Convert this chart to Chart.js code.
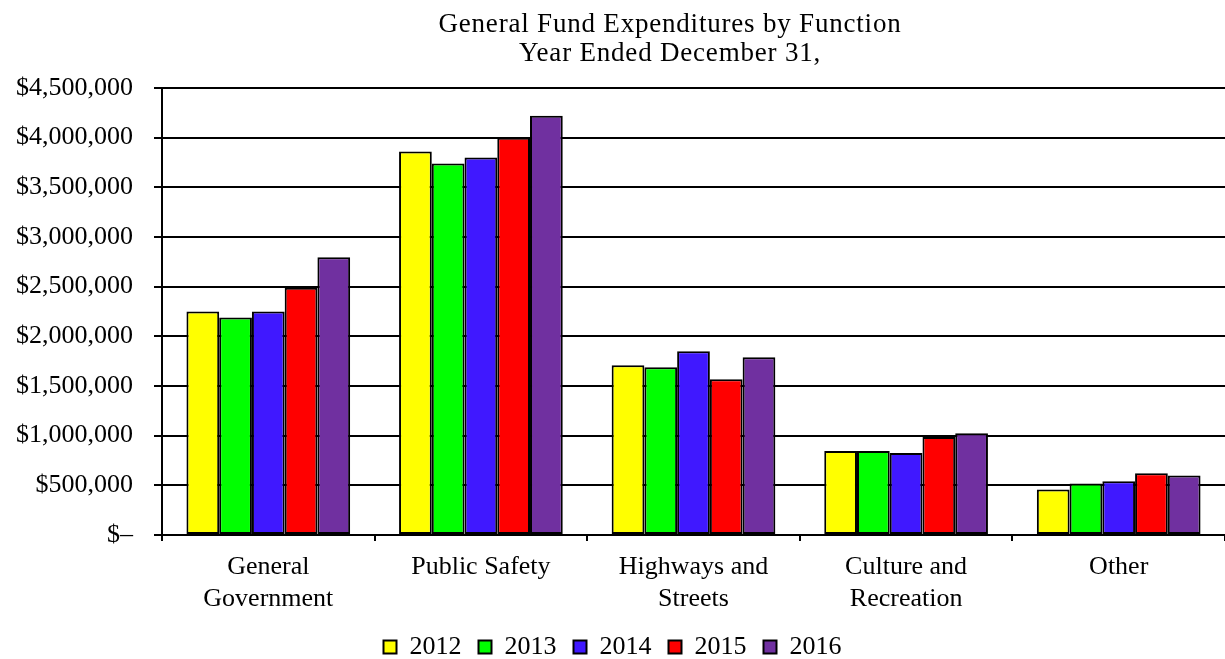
<!DOCTYPE html>
<html>
<head>
<meta charset="utf-8">
<script src="https://cdn.jsdelivr.net/npm/chart.js@4"></script>
<style>
  body { margin: 0; background: #fff; }
</style>
</head>
<body>
<canvas id="grafico" width="1225" height="659"></canvas>
<script>
// Datos
const categorias = [["General", "Government"], ["Public Safety"], ["Highways and", "Streets"], ["Culture and", "Recreation"], ["Other"]];
const anios = ["2012", "2013", "2014", "2015", "2016"];
const v2012 = [2250000, 3860000, 1710000, 845000, 458000];
const v2013 = [2190000, 3740000, 1690000, 845000, 518000];
const v2014 = [2250000, 3800000, 1850000, 825000, 542000];
const v2015 = [2490000, 4000000, 1567000, 987000, 622000];
const v2016 = [2795000, 4220000, 1790000, 1025000, 598000];
const colores = ["#ffff00", "#00ff00", "#4018ff", "#ff0000", "#7030a0"];
const titulo = ["General Fund Expenditures by Function", "Year Ended December 31,"];

const fuente = "'Liberation Serif', 'Times New Roman', serif";

const series = [v2012, v2013, v2014, v2015, v2016];
const datasets = series.map(function(valores, i) {
  return {
    label: anios[i],
    data: valores,
    backgroundColor: colores[i],
    borderColor: "#000",
    borderWidth: 2,
    borderSkipped: false,
    categoryPercentage: 0.77,
    barPercentage: 1.0
  };
});

// Titulo dibujado a mano (centrado un poco a la derecha, como el original)
const tituloPlugin = {
  id: "tituloPlugin",
  afterLayout: function(chart) {
    // las etiquetas de dos lineas pasan por debajo de la caja del eje, no recortarlas
    chart.scales.x.bottom = chart.height;
    // la leyenda va casi pegada al borde de abajo
    chart.legend.top += 29;
    chart.legend.bottom += 29;
  },
  afterDraw: function(chart) {
    const ctx = chart.ctx;
    ctx.save();
    ctx.fillStyle = "#000";
    ctx.font = "27px " + fuente;
    ctx.letterSpacing = "0.8px";
    ctx.textAlign = "center";
    ctx.textBaseline = "alphabetic";
    ctx.fillText(titulo[0], 670, 32);
    ctx.fillText(titulo[1], 670, 61);
    ctx.restore();
  }
};

new Chart(document.getElementById("grafico"), {
  type: "bar",
  data: { labels: categorias, datasets: datasets },
  plugins: [tituloPlugin],
  options: {
    responsive: false,
    animation: false,
    layout: { padding: { top: 88, left: 0, right: 0, bottom: 18 } },
    plugins: {
      legend: {
        position: "bottom",
        labels: {
          color: "#000",
          font: { family: fuente, size: 26 },
          boxWidth: 13,
          boxHeight: 13,
          padding: 17
        }
      },
      tooltip: { enabled: false },
      title: { display: false }
    },
    scales: {
      x: {
        grid: { drawOnChartArea: false, drawTicks: true, tickLength: 6, color: "#000", lineWidth: 2, offset: true },
        border: { display: true, color: "#000", width: 2 },
        ticks: { color: "#000", font: { family: fuente, size: 26 }, padding: 11, maxRotation: 0 },
        afterFit: function(scale) { scale.height = 53; }
      },
      y: {
        min: 0,
        max: 4500000,
        grid: { color: "#000", lineWidth: 2, tickLength: 8 },
        border: { display: true, color: "#000", width: 2 },
        ticks: {
          stepSize: 500000,
          color: "#000",
          font: { family: fuente, size: 26 },
          padding: 21,
          callback: function(v) {
            return v === 0 ? "$\u2013" : "$" + v.toLocaleString("en-US");
          }
        },
        afterFit: function(scale) { scale.width = 162; }
      }
    }
  }
});
</script>
</body>
</html>
